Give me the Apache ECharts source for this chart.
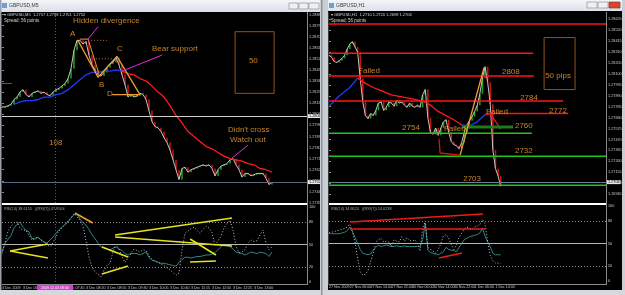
<!DOCTYPE html>
<html><head><meta charset="utf-8">
<script src="https://cdn.jsdelivr.net/npm/echarts@6/dist/echarts.min.js"></script>
<style>html,body{margin:0;padding:0;background:#000;}#c{width:625px;height:295px;}</style>
</head><body><div id="c"></div><script>
// ---------- LEFT CHART (GBPUSD,M5) : x = bar index, y = price in pips (x10000) ----------
const leftTimes = ['3 Dec 2009','3 Dec 06:35','3 Dec 07:10','3 Dec 07:45','3 Dec 08:20','3 Dec 08:55','3 Dec 09:30','3 Dec 10:05','3 Dec 10:40','3 Dec 11:15','3 Dec 11:50','3 Dec 12:25','3 Dec 13:00'];
const leftCrossBar = 17.7;
const leftCrossTime = '2009.12.03 08:00';
const leftPrice = [12813,12813,12814,12815,12819,12821,12825,12827,12823,12821,
  12824,12825,12826,12824,12825,12823,12822,12825,12827,12828,
  12830,12832,12836,12844,12859,12867,12867,12864,12866,12855,
  12847,12843,12839,12838,12841,12845,12848,12849,12853,12847,
  12839,12831,12821,12823,12821,12822,12824,12823,12819,12810,
  12801,12797,12796,12793,12788,12784,12778,12770,12762,12754,
  12763,12764,12760,12762,12763,12764,12765,12766,12765,12766,
  12763,12757,12762,12765,12766,12767,12770,12771,12766,12762,
  12756,12759,12759,12757,12758,12759,12759,12759,12755,12750,12752];
const leftMaBars = [4,6,8,10,12,14,16,18,20,22,24,26,28,30,32,34,36,38,40,42,44,46,48,50,52,54,56,58,60,62,64,66,68,70,72,74,76,78,80,82,84,86,88,90];
const leftMaVals = [12815,12817,12818,12818,12819,12821,12821,12823,12824,12827,
  12831,12835,12839,12841,12841,12842,12842,12843,12842,12840,
  12839,12836,12834,12830,12825,12821,12814,12806,12800,12793,
  12789,12785,12781,12779,12776,12773,12771,12770,12769,12767,
  12766,12763,12762,12760];
const leftMaTurnBar = 40;
const leftPriceLines = [12805.6, 12752];
const leftRsiSlow = [40,52,57,62,72,77,80,73,69,67,58,57,60,56,53,52,56,60,65,70,
  73,77,80,85,90,91,84,79,76,70,63,58,52,47,46,44,43,45,47,44,
  42,38,36,38,38,38,36,38,40,33,29,28,26,25,25,24,23,22,21,26,
  30,33,33,32,33,34,34,35,36,36,37,39,43,47,50,50,47,44,40,39,
  38,36,38,40,39,38,40,39,38,34,40];
const leftRsiFast = [38,52,68,74,79,80,72,69,69,62,56,59,59,56,54,50,47,52,61,68,
  72,76,81,86,91,87,82,75,55,33,20,14,10,7,16,22,25,40,50,44,
  34,26,32,38,44,42,40,43,42,35,30,28,27,24,22,19,16,13,9,12,
  43,65,68,71,73,69,65,70,74,72,66,48,55,61,72,78,82,70,48,39,
  40,43,52,56,54,55,63,69,52,43,47];
// drawn objects (bar, pips)
const leftPattern = [[25.3,12867],[32,12837],[38.3,12854],[46,12823]];
const leftPattern2 = [[26,12868],[28.7,12868],[32.3,12840]];
const leftDLine = [[36.7,12823],[46,12823]];
const leftDotLines = [[[28.7,12867],[35,12867]],[[30.3,12852],[37.7,12852]]];
const leftPointers = [[[28.3,12867],[32,12878]],[[40,12842],[53.3,12855]],[[76.7,12771.5],[82,12782]]];
const leftBox = [[77.7,12874],[90.7,12874],[90.7,12824],[77.7,12824],[77.7,12874]];
const leftStub = [[0,12832],[3.3,12832]];
const leftNotes = [['Hidden divergence',23.7,12882.6],['A',22.7,12872],['B',32.3,12831],['C',38.3,12860],['D',35,12823.4],
  ['Bear support',50,12860],['50',82.3,12850],['108',15.7,12784],["Didn't cross",75.3,12794.2],['Watch out',76,12786.5]];
const leftRsiLines = [[[2.7,41.3],[15.3,50.7]],[[2.7,41.3],[15.3,32]],[[33.3,46.7],[42,33.3]],[[33.3,10.7],[42,21.3]],
  [[37.7,62.7],[76.7,85.3]],[[37.7,60],[76.7,48]],[[62.7,57.3],[71.3,36]],[[62.7,26.7],[71.3,28]]];
const leftRsiOrange = [[24.3,92],[30.3,78.7]];

// ---------- RIGHT CHART (GBPUSD,H1) ----------
const rightTimes = ['27 Nov 2009','27 Nov 06:00','27 Nov 14:00','27 Nov 22:00','30 Nov 06:00','30 Nov 14:00','30 Nov 22:00','1 Dec 06:00','1 Dec 14:00'];
const rightPrice = [12828,12826,12822,12821,12823,12825,12828,12834,12839,12841,
  12836,12831,12806,12783,12770,12767,12772,12770,12775,12782,
  12783,12775,12778,12783,12782,12779,12785,12782,12783,12780,
  12778,12782,12779,12778,12780,12778,12790,12795,12768,12754,
  12752,12758,12751,12758,12764,12766,12754,12745,12742,12741,
  12738,12744,12754,12761,12765,12769,12774,12780,12791,12806,
  12817,12802,12781,12737,12719,12712,12702];
const rightMaBars = [0,4,8,11,14,17,20,24,28,32,36,39,42,45,48,51,54,57,60,62,66];
const rightMaVals = [12779,12789,12797,12806,12801,12797,12794,12790,12788,12786,12784,12780,12774,12770,12766,12761,12760,12764,12771,12772,12757];
const rightMaColorBreaks = [11,51,60]; // blue -> red -> blue -> red
const rightPriceLine = 12706;
const levelValues = [12858,12830,12808,12784,12772,12759,12753,12731,12703];
const levelStart  = [0,0,0,0,60.8,51,0,0,0];
const levelEnd    = [106.5,78.5,78.8,90,92,70.8,78,106.5,106.5];
const levelKind   = ['r','r','r','r','r','g2','g','g','g'];
const rightNotes = [['2808',66.5,12811.9],['2784',73.5,12786.9],['2772',84.6,12774.4],['2760',71.5,12760],['2754',28.1,12758],
  ['2732',71.5,12736],['2703',51.6,12709],['Failed',11.2,12812.8],['Failed',60.4,12773.4],['Failed',44.2,12757],['50 pips',83.1,12808]];
const rightOrange = [[50.4,12732],[59.6,12816]];
const rightRedMark = [[42.3,12748],[42.7,12734],[50.4,12732]];
const rightBox = [[82.7,12845],[94.6,12845],[94.6,12795],[82.7,12795],[82.7,12845]];
const rightRsiSlow = [64,63,63,63,63,64,65,67,72,66,58,50,42,37,36,35,36,41,45,48,
  46,47,48,47,46,46,47,46,46,47,46,46,46,46,46,46,55,77,41,38,
  37,36,35,37,39,45,42,41,41,39,45,50,55,57,59,60,61,62,64,70,
  60,52,46,37,35,35,35];
const rightRsiFast = [64,65,66,67,68,69,70,72,76,66,52,30,12,8,9,14,26,37,52,55,
  57,52,53,52,46,55,53,52,59,53,58,54,53,55,50,40,70,80,45,42,
  40,37,42,50,60,62,57,49,42,48,58,64,69,72,70,69,72,73,75,82,
  76,52,34,27,24,24,23];
const rightRsiLines = [[[8.1,78.7],[59.2,89.3]],[[8.1,69.3],[60,69.3]],[[42.3,30.7],[51.2,37.3]]];

// ---------- styles ----------
const FONT = 'Liberation Sans, Arial, sans-serif';
const ORANGE = '#f4a23a';
const LBL = '#c8c8c8';

function ln(xi, data, color, width, type, z) {
  return {type:'line', xAxisIndex:xi, yAxisIndex:xi, data:data, symbol:'none', silent:true,
    lineStyle:{color:color, width:width, type:type||'solid'}, z:z||3, clip:true};
}
function candles(xi, closes) {
  // open = previous close, close = close (built from the close array)
  const d = closes.map((c,i)=>{ const o = i ? closes[i-1] : c; return [i, o, c, Math.min(o,c), Math.max(o,c)]; });
  return {type:'custom', xAxisIndex:xi, yAxisIndex:xi, silent:true, z:2, data:d,
    renderItem:(params, api)=>{
      const x = api.value(0), o = api.value(1), c = api.value(2);
      const p1 = api.coord([x, o]), p2 = api.coord([x, c]);
      const col = c >= o ? '#1f9a1f' : '#c81414';
      return {type:'rect', shape:{x:p1[0]-0.8, y:Math.min(p1[1],p2[1]), width:1.6, height:Math.max(1, Math.abs(p1[1]-p2[1]))}, style:{fill:col}};
    }};
}
function notes(xi, list, size) {
  return {type:'scatter', xAxisIndex:xi, yAxisIndex:xi, symbolSize:0, silent:true, z:10,
    data:list.map(n=>({value:[n[1],n[2]], name:n[0]})),
    label:{show:true, position:'right', distance:0, formatter:p=>p.name, color:ORANGE, fontSize:size, fontFamily:FONT}};
}
function rsiLevels() {
  return {symbol:'none', silent:true, label:{show:false}, data:[
    {yAxis:80, lineStyle:{type:[1,2], color:'#8c8c8c', width:1}},
    {yAxis:50, lineStyle:{type:'solid', color:'#b4b4b4', width:1}},
    {yAxis:20, lineStyle:{type:[1,2], color:'#8c8c8c', width:1}}]};
}
function priceMark(vals, colors) {
  return {symbol:'none', silent:true, data: vals.map((v,i)=>({yAxis:v, lineStyle:{color:colors[i], width:1, type:'solid'},
    label:{show:true, position:'end', distance:1, formatter:(v/10000).toFixed(4), fontSize:3.8, color:'#000', backgroundColor:'#e6e6e6', padding:[0,1]}}))};
}

const series = [];
// left main
series.push(candles(0, leftPrice));
series.push(Object.assign(ln(0, leftPrice.map((v,i)=>[i,v]), '#c4c4c4', 1), {markLine: priceMark(leftPriceLines, ['#d0d0d0','#5b6a82'])}));
const lMa = leftMaBars.map((b,i)=>[b,leftMaVals[i]]);
series.push(ln(0, lMa.filter(p=>p[0]<=leftMaTurnBar), '#1e3cff', 1.3));
series.push(ln(0, lMa.filter(p=>p[0]>=leftMaTurnBar), '#ff1a1a', 1.3));
series.push(ln(0, leftPattern, '#f29b2e', 1.3, 'solid', 6));
series.push(ln(0, leftPattern2, '#f29b2e', 1, 'solid', 6));
series.push(ln(0, leftDLine, '#f29b2e', 1.3, 'solid', 6));
leftDotLines.forEach(d=>series.push(ln(0, d, '#b07a28', 1, [1,2], 6)));
leftPointers.forEach(d=>series.push(ln(0, d, '#e02ee0', 1, 'solid', 6)));
series.push(ln(0, leftBox, '#94521c', 1, 'solid', 6));
series.push(ln(0, leftStub, '#ff1a1a', 1, 'solid', 6));
series.push(notes(0, leftNotes, 8));
series.push({type:'line', xAxisIndex:0, yAxisIndex:0, data:[], markLine:{symbol:'none', silent:true, label:{show:false},
  data:[{xAxis:leftCrossBar, lineStyle:{color:'#b020c0', type:[1,2], width:1}}]}});
// left rsi
series.push(Object.assign(ln(1, leftRsiSlow.map((v,i)=>[i,v]), '#2f8484', 1), {markLine: rsiLevels()}));
series.push(ln(1, leftRsiFast.map((v,i)=>[i,v]), '#c4c4c4', 1, [1,2]));
leftRsiLines.forEach(d=>series.push(ln(1, d, '#e6e21c', 1.6, 'solid', 6)));
series.push(ln(1, leftRsiOrange, '#f29b2e', 1.6, 'solid', 6));
series.push({type:'line', xAxisIndex:1, yAxisIndex:1, data:[], markLine:{symbol:'none', silent:true,
  data:[{xAxis:leftCrossBar, lineStyle:{color:'#b020c0', type:[1,2], width:1},
    label:{show:true, position:'start', distance:3, formatter:leftCrossTime, fontSize:3.6, color:'#fff', backgroundColor:'#d83ad8', padding:[1,4]}}]}});
// right main
series.push(candles(2, rightPrice));
series.push(Object.assign(ln(2, rightPrice.map((v,i)=>[i,v]), '#c4c4c4', 1), {markLine: priceMark([rightPriceLine], ['#6c7c98'])}));
const rMa = rightMaBars.map((b,i)=>[b,rightMaVals[i]]);
const br = rightMaColorBreaks;
series.push(ln(2, rMa.filter(p=>p[0]<=br[0]), '#1e3cff', 1.3));
series.push(ln(2, rMa.filter(p=>p[0]>=br[0] && p[0]<=br[1]), '#ff1a1a', 1.3));
series.push(ln(2, rMa.filter(p=>p[0]>=br[1] && p[0]<=br[2]), '#1e3cff', 1.3));
series.push(ln(2, rMa.filter(p=>p[0]>=br[2]), '#ff1a1a', 1.3));
const levelColor = {r:'#ff1414', g:'#19c819', g2:'#1f7a1f'};
const levelWidth = {r:1.5, g:1.5, g2:3};
levelValues.forEach((v,i)=>series.push(ln(2, [[levelStart[i],v],[levelEnd[i],v]], levelColor[levelKind[i]], levelWidth[levelKind[i]], 'solid', 4)));
series.push(ln(2, rightOrange, '#f29b2e', 1.3, 'solid', 6));
series.push(ln(2, rightRedMark, '#e01010', 1.3, 'solid', 6));
series.push(ln(2, rightBox, '#94521c', 1, 'solid', 6));
series.push(notes(2, rightNotes, 8));
// right rsi
series.push(Object.assign(ln(3, rightRsiSlow.map((v,i)=>[i,v]), '#2f8484', 1), {markLine: rsiLevels()}));
series.push(ln(3, rightRsiFast.map((v,i)=>[i,v]), '#c4c4c4', 1, [1,2]));
rightRsiLines.forEach(d=>series.push(ln(3, d, '#f01a1a', 1.6, 'solid', 6)));

function xAx(grid, max, interval, times) {
  const o = {type:'value', gridIndex:grid, min:0, max:max, splitLine:{show:false}, axisLine:{show:false}, axisTick:{show:false}};
  if (times) {
    o.interval = interval;
    o.axisLabel = {show:true, color:LBL, fontSize:3.6, align:'left', margin:4, showMaxLabel:false,
      formatter: v => times[Math.round(v/interval)] || ''};
  } else o.axisLabel = {show:false};
  return o;
}
function yPrice(grid, min, max, interval, dec) {
  return {type:'value', gridIndex:grid, position:'right', min:min, max:max, interval:interval,
    splitLine:{show:false}, axisLine:{show:false}, axisTick:{show:true, length:2, lineStyle:{color:'#8a8a8a'}},
    axisLabel:{color:LBL, fontSize:3.8, margin:2, showMaxLabel:false, formatter: v => (v/10000).toFixed(dec)}};
}
function yRsi(grid) {
  return {type:'value', gridIndex:grid, position:'right', min:0, max:100, interval:10,
    splitLine:{show:false}, axisLine:{show:false}, axisTick:{show:false},
    axisLabel:{color:LBL, fontSize:3.8, margin:2, formatter: v => ([0,20,50,80,100].indexOf(v)>=0 ? String(v) : '')}};
}

const graphic = [
  {type:'rect', shape:{x:0,y:0,width:625,height:12}, style:{fill:new echarts.graphic.LinearGradient(0,0,0,1,[{offset:0,color:'#f3f5f8'},{offset:1,color:'#d9dfe6'}])}, z:100},
  {type:'rect', shape:{x:0,y:0,width:1.5,height:295}, style:{fill:'#9aa0a8'}, z:100},
  {type:'rect', shape:{x:320,y:0,width:8,height:295}, style:{fill:'#c9ced5'}, z:100},
  {type:'rect', shape:{x:321,y:0,width:1.5,height:295}, style:{fill:'#8d939b'}, z:101},
  {type:'rect', shape:{x:622,y:0,width:3,height:295}, style:{fill:'#c9ced5'}, z:100},
  {type:'rect', shape:{x:0,y:290,width:625,height:5}, style:{fill:'#d5d9de'}, z:100},
  {type:'rect', shape:{x:328,y:11,width:294,height:1}, style:{fill:'#000'}, z:101},
  // title texts
  {type:'rect', shape:{x:2,y:3,width:5,height:5}, style:{fill:'#6f9fd0'}, z:102},
  {type:'text', x:9, y:3, style:{text:'GBPUSD,M5', fontSize:5, fill:'#3a3a3a', fontFamily:FONT}, z:102},
  {type:'rect', shape:{x:329,y:3,width:5,height:5}, style:{fill:'#6f9fd0'}, z:102},
  {type:'text', x:336, y:3, style:{text:'GBPUSD,H1', fontSize:5, fill:'#3a3a3a', fontFamily:FONT}, z:102},
  // window buttons
  {type:'rect', shape:{x:289,y:3,width:9,height:6}, style:{fill:'#eef0f3', stroke:'#8e949c', lineWidth:0.7}, z:102},
  {type:'rect', shape:{x:299,y:3,width:9,height:6}, style:{fill:'#eef0f3', stroke:'#8e949c', lineWidth:0.7}, z:102},
  {type:'rect', shape:{x:309,y:3,width:10,height:6}, style:{fill:'#eef0f3', stroke:'#8e949c', lineWidth:0.7}, z:102},
  {type:'rect', shape:{x:587,y:2,width:10,height:6}, style:{fill:'#eef0f3', stroke:'#8e949c', lineWidth:0.7}, z:102},
  {type:'rect', shape:{x:598,y:2,width:10,height:6}, style:{fill:'#eef0f3', stroke:'#8e949c', lineWidth:0.7}, z:102},
  {type:'rect', shape:{x:609,y:2,width:11,height:6}, style:{fill:'#d9452f', stroke:'#8e3020', lineWidth:0.7}, z:102},
  // panel frames
  {type:'rect', shape:{x:2,y:203,width:305,height:2}, style:{fill:'#ffffff'}, z:50},
  {type:'rect', shape:{x:307,y:12,width:1,height:273}, style:{fill:'#8a8a8a'}, z:50},
  {type:'rect', shape:{x:2,y:284,width:305,height:1}, style:{fill:'#8a8a8a'}, z:50},
  {type:'rect', shape:{x:329,y:203,width:277,height:2}, style:{fill:'#ffffff'}, z:50},
  {type:'rect', shape:{x:606,y:12,width:1,height:273}, style:{fill:'#8a8a8a'}, z:50},
  {type:'rect', shape:{x:329,y:284,width:277,height:1}, style:{fill:'#8a8a8a'}, z:50},
  {type:'rect', shape:{x:328,y:12,width:1,height:273}, style:{fill:'#3a3a3a'}, z:50},
  // info texts
  {type:'text', x:4, y:13, style:{text:'\u25BE GBPUSD,M5  1.2757 1.2758 1.2751 1.2752', fontSize:4, fill:'#d8d8d8', fontFamily:FONT}, z:60},
  {type:'text', x:4, y:18, style:{text:'Spread: 56 points', fontSize:4.5, fill:'#d8d8d8', fontFamily:FONT}, z:60},
  {type:'text', x:331, y:13, style:{text:'\u25BE GBPUSD,H1  1.2710 1.2720 1.2698 1.2706', fontSize:4, fill:'#d8d8d8', fontFamily:FONT}, z:60},
  {type:'text', x:331, y:18, style:{text:'Spread: 56 points', fontSize:4.5, fill:'#d8d8d8', fontFamily:FONT}, z:60},
  {type:'text', x:4, y:207, style:{text:'RSI(14) 38.6155   ((RSI(7)) 47.9504', fontSize:3.8, fill:'#a8a8a8', fontFamily:FONT}, z:60},
  {type:'text', x:331, y:207, style:{text:'RSI(14) 34.8624   ((RSI(7)) 24.0238', fontSize:3.8, fill:'#a8a8a8', fontFamily:FONT}, z:60}
];

const option = {
  animation:false,
  backgroundColor:'#000000',
  textStyle:{fontFamily:FONT},
  grid:[
    {left:2, top:12, width:305, height:191, containLabel:false, outerBoundsMode:'none'},
    {left:2, top:207, width:305, height:75, containLabel:false, outerBoundsMode:'none'},
    {left:329, top:12, width:277, height:193, containLabel:false, outerBoundsMode:'none'},
    {left:329, top:206, width:277, height:75, containLabel:false, outerBoundsMode:'none'}
  ],
  xAxis:[xAx(0, 101.67), xAx(1, 101.67, 7, leftTimes), xAx(2, 106.5), xAx(3, 106.5, 8, rightTimes)],
  yAxis:[yPrice(0, 12735, 12890, 9, 4), yRsi(1), yPrice(2, 12684, 12869.6, 10.5, 5), yRsi(3)],
  series: series,
  graphic: graphic
};
option.yAxis[2].axisLabel.showMinLabel = false;
const chart = echarts.init(document.getElementById('c'), null, {renderer:'canvas'});
chart.setOption(option);
</script></body></html>
